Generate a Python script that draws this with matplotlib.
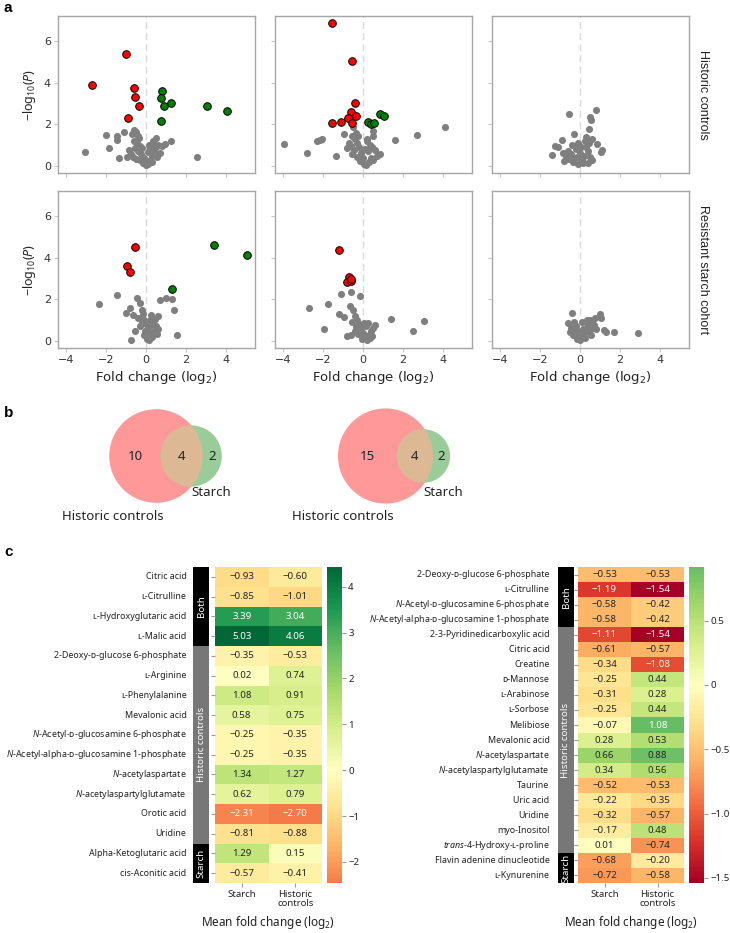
import numpy as np
import matplotlib.pyplot as plt
import seaborn as sns
from matplotlib.patches import Circle, Rectangle

plt.rcParams['font.family'] = ['Noto Sans', 'DejaVu Sans']
plt.rcParams['mathtext.fontset'] = 'custom'
plt.rcParams['mathtext.rm'] = 'Noto Sans'
plt.rcParams['mathtext.it'] = 'Noto Sans:italic'
plt.rcParams['mathtext.bf'] = 'Noto Sans:bold'

# ---------------- data: volcano plots (fold change log2, -log10 P) ----------------
hc_col1_grey = [(-3.03, 0.67), (-2.0, 1.49), (-1.83, 0.87), (-1.47, 1.44), (-1.47, 1.25), (-1.1, 1.62),
                (-1.33, 0.38), (-0.95, 0.42), (-0.85, 0.75), (-0.72, 1.55), (-0.58, 1.72), (-0.48, 1.62),
                (-0.42, 1.45), (-0.35, 1.35), (-0.62, 1.2), (-0.45, 1.1), (-0.3, 0.98), (-0.2, 0.88),
                (-0.55, 0.85), (-0.4, 0.7), (-0.25, 0.55), (-0.1, 0.4), (-0.05, 0.25), (-0.15, 0.15),
                (0.0, 0.05), (0.1, 0.1), (0.2, 0.3), (0.3, 0.5), (0.42, 0.7), (0.5, 0.9), (0.62, 1.02),
                (0.35, 1.2), (0.4, 1.05), (0.2, 0.85), (0.1, 0.65), (-0.3, 0.3), (0.55, 0.45), (0.7, 0.62),
                (0.15, 1.0), (-0.75, 0.55), (-0.5, 0.35), (1.27, 1.22), (0.95, 1.06), (2.57, 0.45),
                (0.8, 0.95), (0.3, 0.2), (-0.65, 0.45), (0.5, 1.35)]
hc_col1_down = [(-2.68, 3.88), (-1.0, 5.37), (-0.6, 3.72), (-0.53, 3.3), (-0.35, 2.88), (-0.88, 2.32)]
hc_col1_up = [(0.8, 3.59), (0.75, 3.28), (0.9, 2.9), (1.27, 3.03), (3.03, 2.87), (4.05, 2.64), (0.73, 2.15)]

hc_col2_grey = [(-3.93, 1.03), (-2.82, 0.64), (-2.29, 1.19), (-2.04, 1.28), (-2.17, 1.23), (-1.34, 0.5),
                (-0.96, 1.52), (1.62, 1.25), (2.69, 1.49), (4.08, 1.89), (0.2, 1.31), (0.48, 1.68),
                (0.86, 0.58), (-0.5, 1.85), (-0.35, 1.6), (-0.55, 1.45), (-0.7, 1.1), (-0.4, 1.3),
                (-0.3, 1.1), (-0.6, 0.95), (-0.2, 0.9), (-0.45, 0.75), (-0.1, 0.6), (0.0, 0.4),
                (-0.15, 0.25), (0.05, 0.1), (0.15, 0.05), (0.3, 0.2), (0.4, 0.4), (0.25, 0.7), (0.45, 0.9),
                (0.6, 0.75), (0.5, 0.3), (0.35, 1.0), (0.1, 0.8), (-0.55, 0.55), (-0.3, 0.45), (0.7, 0.5),
                (-0.8, 0.85), (0.2, 1.2), (-0.25, 1.45), (0.5, 1.45)]
hc_col2_down = [(-1.53, 6.88), (-0.55, 5.05), (-0.42, 3.03), (-0.58, 2.58), (-0.35, 2.4), (-0.75, 2.31),
                (-1.53, 2.05), (-1.08, 2.12), (-0.53, 2.08)]
hc_col2_up = [(0.25, 2.13), (0.86, 2.47), (1.07, 2.39), (0.41, 1.99), (0.55, 2.05)]

hc_col3_grey = [(-0.53, 2.48), (0.82, 2.69), (0.5, 2.34), (0.57, 2.21), (0.45, 1.78), (-0.28, 1.52),
                (0.3, 1.41), (-0.9, 1.25), (-1.25, 0.98), (-1.08, 0.9), (-1.4, 0.51), (0.83, 1.03),
                (1.12, 0.77), (1.03, 0.66), (-0.82, 0.24), (-0.85, 0.61), (-0.1, 0.08), (0.38, 0.13),
                (-0.6, 0.7), (-0.45, 0.55), (-0.3, 0.4), (-0.2, 0.8), (-0.1, 1.1), (0.0, 0.6), (0.1, 0.3),
                (0.2, 0.5), (0.3, 0.9), (0.4, 0.7), (0.5, 0.45), (0.6, 0.3), (0.15, 0.15), (-0.35, 0.2),
                (-0.55, 0.35), (0.25, 1.2), (-0.15, 0.45), (0.05, 0.9), (0.45, 1.1), (-0.7, 0.5),
                (0.6, 1.3), (-0.4, 1.0)]

rs_col1_grey = [(-2.33, 1.78), (-1.47, 2.19), (-0.44, 2.05), (-0.3, 1.81), (-0.98, 1.36), (-0.79, 1.57),
                (-0.65, 1.25), (1.02, 2.06), (1.32, 2.0), (0.7, 1.98), (1.39, 1.47), (1.56, 0.27),
                (-0.75, 0.03), (0.6, 1.2), (0.25, 1.25), (-0.54, 0.48), (-0.2, 1.5), (-0.1, 1.0),
                (0.0, 0.8), (0.1, 0.6), (0.2, 0.4), (0.3, 0.2), (-0.1, 0.3), (0.05, 0.1), (0.15, 0.05),
                (0.4, 0.5), (0.5, 0.7), (0.55, 0.35), (-0.3, 0.7), (-0.2, 0.9), (0.2, 1.0), (0.35, 0.9),
                (0.6, 0.55), (-0.05, 0.5), (-0.4, 1.1), (-0.15, 1.3), (0.45, 1.05), (0.25, 0.75)]
rs_col1_down = [(-0.56, 4.53), (-0.93, 3.62), (-0.82, 3.32)]
rs_col1_up = [(3.4, 4.61), (5.03, 4.13), (1.3, 2.47)]

rs_col2_grey = [(-2.69, 1.59), (-1.74, 1.78), (-1.12, 2.24), (-0.14, 2.18), (-0.62, 2.36), (-0.65, 1.7),
                (-1.2, 1.28), (-0.97, 1.14), (-1.97, 0.56), (1.41, 1.04), (2.48, 0.47), (3.03, 0.94),
                (-0.79, 0.22), (0.6, 0.75), (0.26, 0.85), (-0.5, 1.5), (-0.4, 1.2), (-0.3, 1.0),
                (-0.2, 0.8), (-0.1, 0.6), (0.0, 0.4), (0.1, 0.2), (-0.05, 0.1), (0.2, 0.05), (0.3, 0.3),
                (0.4, 0.5), (0.5, 0.6), (-0.6, 0.3), (-0.4, 0.5), (0.15, 0.7), (0.35, 0.15), (-0.25, 0.35),
                (-0.55, 0.9), (0.05, 0.85), (0.45, 0.25), (-0.35, 0.65)]
rs_col2_down = [(-1.18, 4.37), (-0.69, 3.09), (-0.79, 2.83), (-0.58, 2.9), (-0.62, 2.99)]
rs_col2_up = []

rs_col3_grey = [(-0.42, 1.33), (-0.58, 0.88), (1.0, 1.27), (0.77, 1.09), (1.05, 1.12), (1.19, 0.53),
                (1.3, 0.42), (1.68, 0.45), (2.89, 0.4), (-0.51, 0.42), (0.02, 0.05), (-0.3, 0.9),
                (-0.2, 0.7), (-0.1, 0.5), (0.0, 0.3), (0.1, 0.2), (0.2, 0.4), (0.3, 0.6), (0.4, 0.8),
                (0.5, 1.0), (0.6, 0.9), (0.25, 0.15), (-0.35, 0.3), (0.45, 0.45), (0.6, 0.6), (-0.15, 0.1),
                (0.1, 0.9), (0.35, 1.0), (-0.45, 0.6), (0.7, 0.75), (0.15, 0.55), (-0.25, 0.5),
                (0.55, 0.3), (0.8, 0.55)]

row_labels = ['Historic controls', 'Resistant starch cohort']

# ---------------- data: venn counts (historic only, both, starch only) ----------------
venn_left = (10, 4, 2)
venn_right = (15, 4, 2)

# ---------------- data: heatmaps ----------------
left_names = ['Citric acid', 'ʟ-Citrulline', 'ʟ-Hydroxyglutaric acid', 'ʟ-Malic acid',
              '2-Deoxy-ᴅ-glucose 6-phosphate', 'ʟ-Arginine', 'ʟ-Phenylalanine', 'Mevalonic acid',
              '$\\it{N}$-Acetyl-ᴅ-glucosamine 6-phosphate', '$\\it{N}$-Acetyl-alpha-ᴅ-glucosamine 1-phosphate',
              '$\\it{N}$-acetylaspartate', '$\\it{N}$-acetylaspartylglutamate', 'Orotic acid', 'Uridine',
              'Alpha-Ketoglutaric acid', 'cis-Aconitic acid']
left_starch = [-0.93, -0.85, 3.39, 5.03, -0.35, 0.02, 1.08, 0.58, -0.25, -0.25, 1.34, 0.62, -2.31, -0.81, 1.29, -0.57]
left_hist = [-0.60, -1.01, 3.04, 4.06, -0.53, 0.74, 0.91, 0.75, -0.35, -0.35, 1.27, 0.79, -2.70, -0.88, 0.15, -0.41]
left_groups = [('Both', 4), ('Historic controls', 10), ('Starch', 2)]

right_names = ['2-Deoxy-ᴅ-glucose 6-phosphate', 'ʟ-Citrulline', '$\\it{N}$-Acetyl-ᴅ-glucosamine 6-phosphate',
               '$\\it{N}$-Acetyl-alpha-ᴅ-glucosamine 1-phosphate', '2-3-Pyridinedicarboxylic acid',
               'Citric acid', 'Creatine', 'ᴅ-Mannose', 'ʟ-Arabinose', 'ʟ-Sorbose', 'Melibiose',
               'Mevalonic acid', '$\\it{N}$-acetylaspartate', '$\\it{N}$-acetylaspartylglutamate', 'Taurine',
               'Uric acid', 'Uridine', 'myo-Inositol', '$\\it{trans}$-4-Hydroxy-ʟ-proline',
               'Flavin adenine dinucleotide', 'ʟ-Kynurenine']
right_starch = [-0.53, -1.19, -0.58, -0.58, -1.11, -0.61, -0.34, -0.25, -0.31, -0.25, -0.07, 0.28, 0.66,
                0.34, -0.52, -0.22, -0.32, -0.17, 0.01, -0.68, -0.72]
right_hist = [-0.53, -1.54, -0.42, -0.42, -1.54, -0.57, -1.08, 0.44, 0.28, 0.44, 1.08, 0.53, 0.88, 0.56,
              -0.53, -0.35, -0.57, 0.48, -0.74, -0.20, -0.58]
right_groups = [('Both', 4), ('Historic controls', 15), ('Starch', 2)]

col_labels = ['Starch', 'Historic\ncontrols']

W, H = 730, 933
fig = plt.figure(figsize=(W / 100, H / 100), dpi=100)


def px(x, y, w, h):
    return [x / W, 1 - (y + h) / H, w / W, h / H]


NARROW = ['Liberation Sans Narrow', 'DejaVu Sans']
SPINE = '#a6a6a6'

# ---------------- panel a: volcano plots ----------------
panels = [[(hc_col1_grey, hc_col1_down, hc_col1_up), (hc_col2_grey, hc_col2_down, hc_col2_up), (hc_col3_grey, [], [])],
          [(rs_col1_grey, rs_col1_down, rs_col1_up), (rs_col2_grey, rs_col2_down, rs_col2_up), (rs_col3_grey, [], [])]]
col_left = [58, 275, 492]
row_top = [16, 191]
for i in range(2):
    for j in range(3):
        ax = fig.add_axes(px(col_left[j], row_top[i], 197, 157))
        grey, down, up = panels[i][j]
        ax.axvline(0, color='#d9d9d9', lw=1, ls=(0, (5, 3)), zorder=0)
        g = np.array(grey)
        ax.scatter(g[:, 0], g[:, 1], s=26, color='#7f7f7f', lw=0, zorder=2)
        for pts, col in ((down, '#ff0000'), (up, '#008000')):
            if pts:
                p = np.array(pts)
                ax.scatter(p[:, 0], p[:, 1], s=30, color=col, edgecolor='black', lw=0.7, zorder=3)
        ax.set_xlim(-4.4, 5.45)
        ax.set_ylim(-0.34, 7.2)
        ax.set_xticks([-4, -2, 0, 2, 4])
        ax.set_yticks([0, 2, 4, 6])
        for s in ax.spines.values():
            s.set_color(SPINE)
            s.set_linewidth(1)
        ax.tick_params(length=3, color='#c8c8c8', labelsize=8, labelcolor='#333333', pad=2)
        for lab in ax.get_xticklabels() + ax.get_yticklabels():
            lab.set_family(NARROW)
        if i == 0:
            ax.tick_params(labelbottom=False)
        else:
            ax.set_xlabel('Fold change (log$_\\mathregular{2}$)', fontsize=9.5, family=NARROW, color='#222222', labelpad=3)
        if j == 0:
            ax.set_ylabel('\u2212log$_\\mathregular{10}$($\\it{P}$)', fontsize=9, color='#222222', labelpad=4)
        else:
            ax.tick_params(labelleft=False)
        if j == 2:
            ax.text(1.04, 0.5, row_labels[i], transform=ax.transAxes, rotation=270, va='center', ha='left',
                    fontsize=9, family=['Liberation Sans', 'DejaVu Sans'], color='#222222')

# ---------------- overlay axes in pixel units (letters + venn) ----------------
ov = fig.add_axes([0, 0, 1, 1], zorder=-1)
ov.set_xlim(0, W)
ov.set_ylim(H, 0)
ov.axis('off')
for letter, y in (('a', 8), ('b', 413), ('c', 552)):
    fig.text(4 / W, 1 - y / H, letter, fontsize=11, fontweight='bold', va='center', ha='left',
             family=['Liberation Sans', 'DejaVu Sans'])


def lens_area(r1, r2, d):
    if d >= r1 + r2:
        return 0.0
    if d <= abs(r1 - r2):
        return np.pi * min(r1, r2) ** 2
    a1 = r1 ** 2 * np.arccos((d ** 2 + r1 ** 2 - r2 ** 2) / (2 * d * r1))
    a2 = r2 ** 2 * np.arccos((d ** 2 + r2 ** 2 - r1 ** 2) / (2 * d * r2))
    a3 = 0.5 * np.sqrt((-d + r1 + r2) * (d + r1 - r2) * (d - r1 + r2) * (d + r1 + r2))
    return a1 + a2 - a3


def venn(counts, cx, cy):
    only_a, both, only_b = counts
    total = only_a + both + only_b
    scale = 50.0
    r1 = scale * np.sqrt((only_a + both) / total)
    r2 = scale * np.sqrt((only_b + both) / total)
    target = np.pi * scale ** 2 * both / total
    lo, hi = abs(r1 - r2) + 1e-6, r1 + r2
    for _ in range(60):
        mid = 0.5 * (lo + hi)
        if lens_area(r1, r2, mid) > target:
            lo = mid
        else:
            hi = mid
    d = 0.5 * (lo + hi)
    gx = cx + d
    red = Circle((cx, cy), r1, facecolor='#ff9999', edgecolor='none')
    grn = Circle((gx, cy), r2, facecolor='#99cc99', edgecolor='none')
    ov.add_patch(red)
    ov.add_patch(grn)
    mix = Circle((gx, cy), r2, facecolor='#dcb994', edgecolor='none')
    ov.add_patch(mix)
    mix.set_clip_path(red)
    fs = 9.5
    ov.text((cx - r1 + gx - r2) / 2, cy + 1, str(only_a), ha='center', va='center', fontsize=fs, color='#222222')
    ov.text((gx - r2 + cx + r1) / 2, cy + 1, str(both), ha='center', va='center', fontsize=fs, color='#222222')
    ov.text((cx + r1 + gx + r2) / 2, cy + 1, str(only_b), ha='center', va='center', fontsize=fs, color='#222222')
    ov.text(gx + 20, cy + 36, 'Starch', ha='center', va='center', fontsize=fs, color='#222222')
    ov.text(cx - 43, cy + 60, 'Historic controls', ha='center', va='center', fontsize=fs, color='#222222')


venn(venn_left, 156, 456)
venn(venn_right, 385.5, 456)

# ---------------- panel c: heatmaps ----------------
TOP, BOT = 567, 883
LABEL_FS = 6.4


def heatmap(bar_x, cell_x, cbar_x, names, starch, hist, groups, cticks, clabels):
    n = len(names)
    hgt = BOT - TOP
    ax = fig.add_axes(px(cell_x[0], TOP, cell_x[1] - cell_x[0], hgt))
    cax = fig.add_axes(px(cbar_x[0], TOP, cbar_x[1] - cbar_x[0], hgt))
    gax = fig.add_axes(px(bar_x[0], TOP, bar_x[1] - bar_x[0], hgt))
    vals = np.column_stack([starch, hist])
    annot = np.array([[f'{v:.2f}'.replace('-', '\u2212') for v in row] for row in vals])
    sns.heatmap(vals, ax=ax, cbar_ax=cax, cmap='RdYlGn', center=0, robust=True,
                annot=annot, fmt='', annot_kws={'fontsize': 7})
    ax.set_yticks(np.arange(n) + 0.5)
    ax.set_yticklabels(names, rotation=0, fontsize=LABEL_FS, color='#222222')
    ax.set_xticks([0.5, 1.5])
    ax.set_xticklabels(col_labels, rotation=0, fontsize=6.9, color='#222222', linespacing=1.05)
    ax.tick_params(axis='y', length=3, color='#9a9a9a', pad=17.5)
    ax.tick_params(axis='x', length=3, color='#9a9a9a', pad=2)
    ax.set_xlabel('Mean fold change (log$_\\mathregular{2}$)', fontsize=8.5, color='#222222', labelpad=4)
    cax.set_yticks(cticks)
    cax.set_yticklabels(clabels)
    cax.tick_params(length=3, color='#9a9a9a', labelsize=7, labelcolor='#222222', pad=1.5)
    # group bar
    gax.set_xlim(0, 1)
    gax.set_ylim(n, 0)
    gax.axis('off')
    start = 0
    for label, size in groups:
        col = 'black' if label != 'Historic controls' else '#777777'
        gax.add_patch(Rectangle((0, start), 1, size, facecolor=col, edgecolor='none'))
        gax.text(0.5, start + size / 2, label, rotation=90, ha='center', va='center', color='white', fontsize=7)
        start += size


heatmap((193, 209), (215, 322), (327, 342), left_names, left_starch, left_hist, left_groups,
        [-2, -1, 0, 1, 2, 3, 4], ['\u22122', '\u22121', '0', '1', '2', '3', '4'])
heatmap((558, 574), (578, 684), (689, 704), right_names, right_starch, right_hist, right_groups,
        [-1.5, -1.0, -0.5, 0, 0.5], ['\u22121.5', '\u22121.0', '\u22120.5', '0', '0.5'])

fig.savefig('out.png', dpi=100)
